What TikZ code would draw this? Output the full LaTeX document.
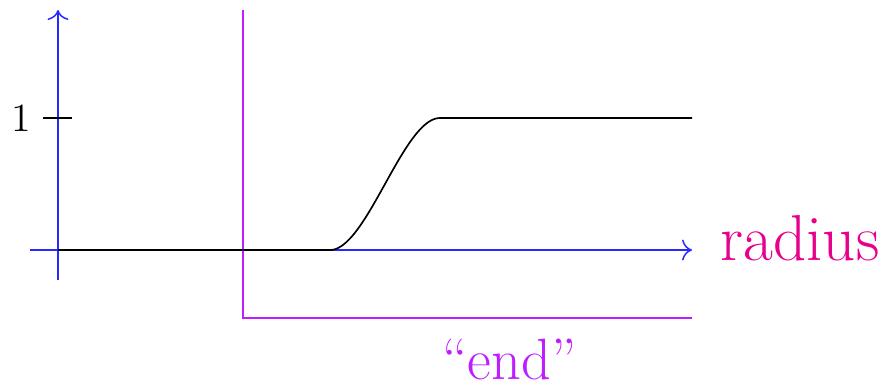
\documentclass[tikz,border=0pt]{standalone}
\usetikzlibrary{arrows.meta}
\definecolor{axisblue}{RGB}{40,40,255}
\definecolor{endpurple}{RGB}{190,30,255}
\definecolor{radmag}{RGB}{230,0,140}
\begin{document}
\begin{tikzpicture}[x=0.3pt,y=-0.3pt,
  axis/.style={draw=axisblue,line width=0.45pt},
  endline/.style={draw=endpurple,line width=0.45pt},
  curve/.style={draw=black,line width=0.5pt}]
\useasboundingbox (0,0) rectangle (888,388);
% axes
\coordinate (xs) at (30,250);
\coordinate (xe) at (692,250);
\coordinate (ys) at (58,280);
\coordinate (ye) at (58,10);
\draw[axis,-{To[length=3pt]}] (xs) -- (xe);
\draw[axis,-{To[length=3pt]}] (ys) -- (ye);
% tick
\coordinate (t1) at (43,118);
\coordinate (t2) at (72,118);
\draw[line width=0.45pt] (t1) -- (t2);
\node[anchor=east,inner sep=0pt,font=\fontsize{12}{14}\selectfont] (one) at (32,118) {1};
% end line
\coordinate (e1) at (243,10);
\coordinate (e2) at (243,318);
\coordinate (e3) at (692,318);
\draw[endline] (e1) -- (e2) -- (e3);
% curve
\coordinate (c0) at (58,250);
\coordinate (c1) at (330,250);
\coordinate (c2) at (440,118);
\coordinate (c3) at (692,118);
\draw[curve] (c0) -- (c1) plot[domain=0:1,samples=60] ({330+110*\x},{250-132*(3*\x*\x-2*\x*\x*\x)}) -- (c3);
% labels
\node[anchor=base west,inner sep=0pt,text=radmag,font=\fontsize{19.5}{22}\selectfont] (rad) at (720,260) {radius};
\node[anchor=base west,inner sep=0pt,text=endpurple,font=\fontsize{17.5}{20}\selectfont] (end) at (442,379) {``end''};
\end{tikzpicture}
\end{document}
